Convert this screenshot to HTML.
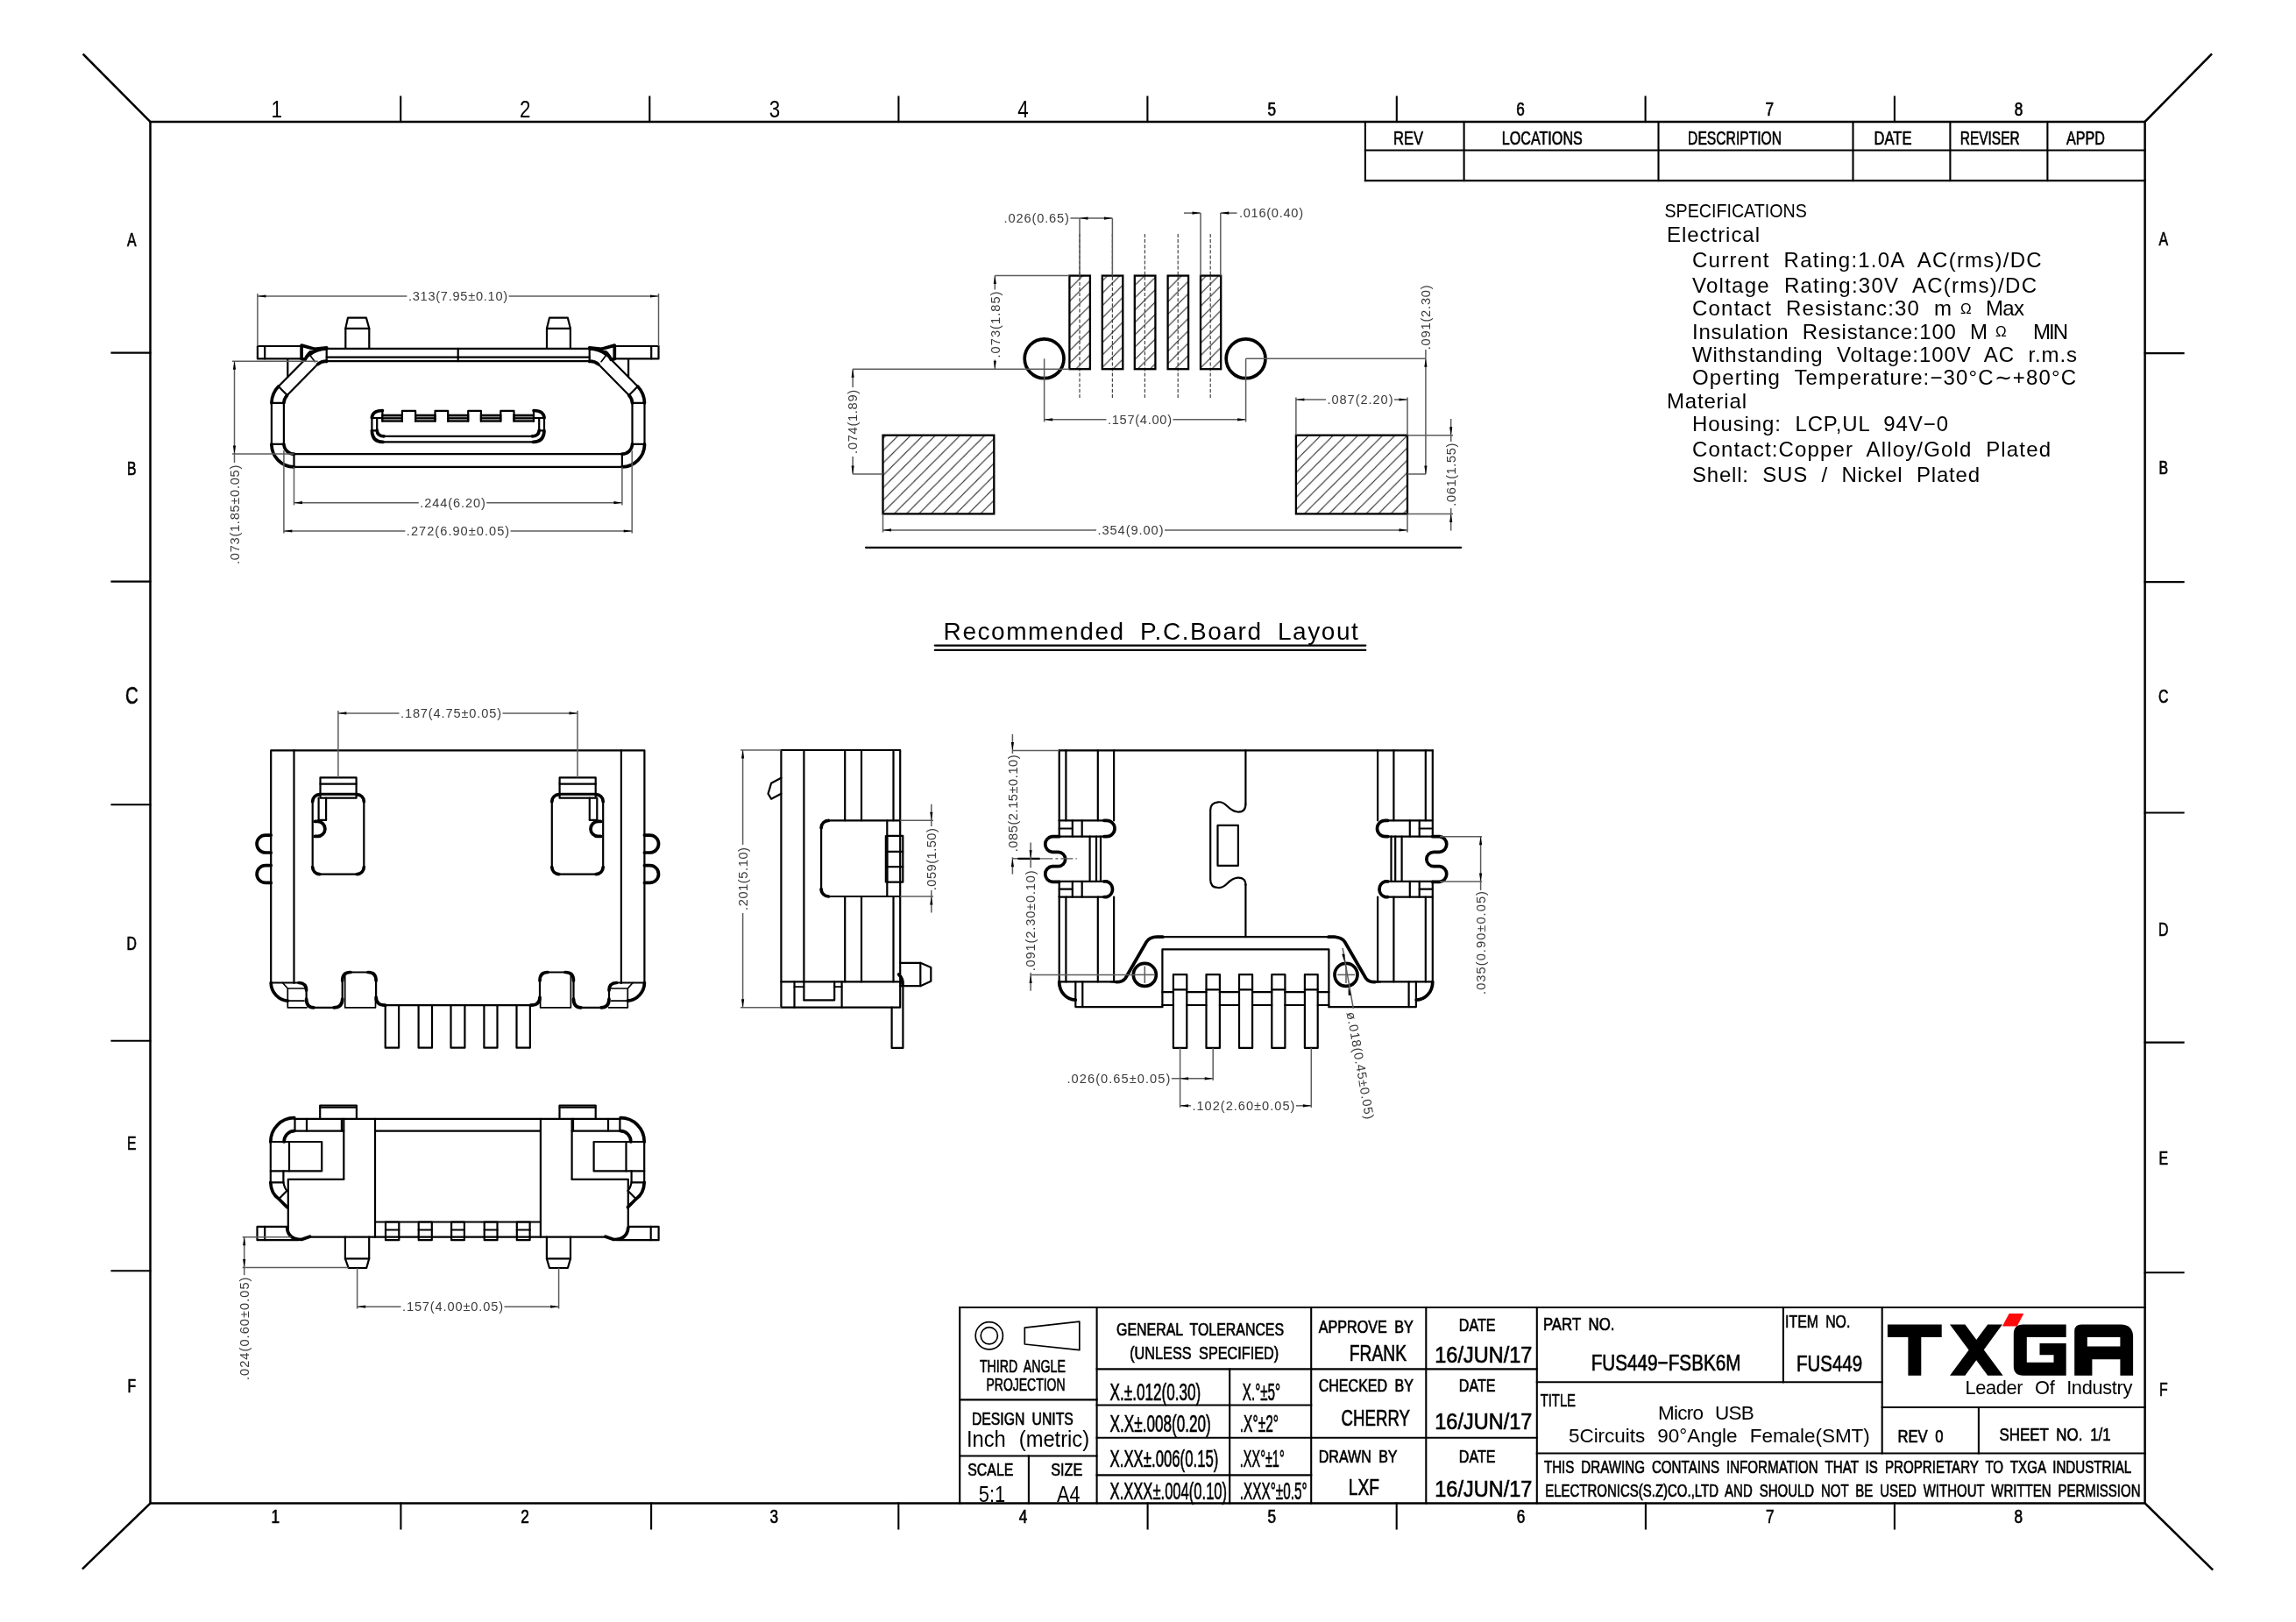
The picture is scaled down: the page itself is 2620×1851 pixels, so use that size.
<!DOCTYPE html>
<html><head><meta charset="utf-8"><title>FUS449-FSBK6M</title>
<style>
html,body{margin:0;padding:0;background:#fff;}
body{width:2620px;height:1851px;overflow:hidden;font-family:"Liberation Sans",sans-serif;}
svg{display:block;will-change:transform;transform:translateZ(0)}
svg text{font-family:"Liberation Sans",sans-serif;}
.f{stroke:#000;stroke-width:2.5;fill:none;stroke-linecap:square}
.g{stroke:#000;stroke-width:2.1;fill:none;stroke-linecap:square}
.k{stroke:#000;stroke-width:2.2;fill:none;stroke-linejoin:round;stroke-linecap:round}
.k3{stroke:#000;stroke-width:3.7;fill:none;stroke-linejoin:round;stroke-linecap:round}
.m{stroke:#000;stroke-width:1.7;fill:none;stroke-linejoin:round;stroke-linecap:round}
.n{stroke:#5c5c5c;stroke-width:1.5;fill:none}
.h{stroke:#444;stroke-width:1.2;fill:none;stroke-dasharray:4 2.1}
.cl{stroke:#555;stroke-width:1.3;fill:none;stroke-dasharray:14 3 3 3}
.af{fill:#000;stroke:none}
.t{fill:#000}
.tb{fill:#000;stroke:#000;stroke-width:0.65}
.wf{fill:#fff}
.d{fill:#3a3a3a}
.lg{fill:#000}
.hp{fill:url(#hatch);stroke:#000;stroke-width:2.3}
.hpB{fill:url(#hatchB);stroke:#000;stroke-width:2.3}
</style></head><body>
<svg width="2620" height="1851" viewBox="0 0 2620 1851">
<defs>
<pattern id="hatch" patternUnits="userSpaceOnUse" width="14.1" height="14.1"><path d="M0.20,-1 L-1,0.20 M14.30,-1 L-1,14.30 M28.40,-1 L-1,28.40 M42.50,-1 L-1,42.50" stroke="#2a2a2a" stroke-width="1.05" fill="none"/></pattern>
<pattern id="hatchB" patternUnits="userSpaceOnUse" width="14.1" height="14.1"><path d="M-11.10,-1 L-1,-11.10 M3.00,-1 L-1,3.00 M17.10,-1 L-1,17.10 M31.20,-1 L-1,31.20" stroke="#2a2a2a" stroke-width="1.05" fill="none"/></pattern>
</defs>
<g id="frame">
<rect class="f" x="171.5" y="139.0" width="2276.1" height="1576.5" />
<line class="f" x1="95.5" y1="62.5" x2="171.5" y2="139.0"/>
<line class="f" x1="2447.6" y1="139.0" x2="2523.2" y2="62.2"/>
<line class="f" x1="171.5" y1="1715.5" x2="94.8" y2="1789.7"/>
<line class="f" x1="2447.6" y1="1715.5" x2="2524.3" y2="1790.8"/>
<line class="g" x1="457.2" y1="110.5" x2="457.2" y2="139.0"/>
<line class="g" x1="741.3" y1="110.5" x2="741.3" y2="139.0"/>
<line class="g" x1="1025.4" y1="110.5" x2="1025.4" y2="139.0"/>
<line class="g" x1="1309.4" y1="110.5" x2="1309.4" y2="139.0"/>
<line class="g" x1="1593.8" y1="110.5" x2="1593.8" y2="139.0"/>
<line class="g" x1="1877.6" y1="110.5" x2="1877.6" y2="139.0"/>
<line class="g" x1="2161.9" y1="110.5" x2="2161.9" y2="139.0"/>
<line class="g" x1="457.4" y1="1715.5" x2="457.4" y2="1744.5"/>
<line class="g" x1="743.1" y1="1715.5" x2="743.1" y2="1744.5"/>
<line class="g" x1="1025.3" y1="1715.5" x2="1025.3" y2="1744.5"/>
<line class="g" x1="1309.6" y1="1715.5" x2="1309.6" y2="1744.5"/>
<line class="g" x1="1593.7" y1="1715.5" x2="1593.7" y2="1744.5"/>
<line class="g" x1="1877.9" y1="1715.5" x2="1877.9" y2="1744.5"/>
<line class="g" x1="2161.9" y1="1715.5" x2="2161.9" y2="1744.5"/>
<line class="g" x1="127.5" y1="402.6" x2="171.5" y2="402.6"/>
<line class="g" x1="127.5" y1="663.6" x2="171.5" y2="663.6"/>
<line class="g" x1="127.5" y1="918.3" x2="171.5" y2="918.3"/>
<line class="g" x1="127.5" y1="1187.7" x2="171.5" y2="1187.7"/>
<line class="g" x1="127.5" y1="1450.2" x2="171.5" y2="1450.2"/>
<line class="g" x1="2447.6" y1="403.1" x2="2491.6" y2="403.1"/>
<line class="g" x1="2447.6" y1="664.1" x2="2491.6" y2="664.1"/>
<line class="g" x1="2447.6" y1="927.5" x2="2491.6" y2="927.5"/>
<line class="g" x1="2447.6" y1="1189.6" x2="2491.6" y2="1189.6"/>
<line class="g" x1="2447.6" y1="1452.3" x2="2491.6" y2="1452.3"/>
<text class="t" x="315.8" y="134.2" font-size="28" text-anchor="middle" transform="translate(315.8 0) scale(0.8 1) translate(-315.8 0)">1</text>
<text class="t" x="599.3" y="134.2" font-size="28" text-anchor="middle" transform="translate(599.3 0) scale(0.8 1) translate(-599.3 0)">2</text>
<text class="t" x="883.9" y="134.2" font-size="28" text-anchor="middle" transform="translate(883.9 0) scale(0.8 1) translate(-883.9 0)">3</text>
<text class="t" x="1167.4" y="134.2" font-size="28" text-anchor="middle" transform="translate(1167.4 0) scale(0.8 1) translate(-1167.4 0)">4</text>
<text class="tb" x="1451.3" y="132.2" font-size="21.5" text-anchor="middle" transform="translate(1451.3 0) scale(0.8 1) translate(-1451.3 0)">5</text>
<text class="tb" x="1735.0" y="132.2" font-size="21.5" text-anchor="middle" transform="translate(1735.0 0) scale(0.8 1) translate(-1735.0 0)">6</text>
<text class="tb" x="2019.3" y="132.2" font-size="21.5" text-anchor="middle" transform="translate(2019.3 0) scale(0.8 1) translate(-2019.3 0)">7</text>
<text class="tb" x="2303.5" y="132.2" font-size="21.5" text-anchor="middle" transform="translate(2303.5 0) scale(0.8 1) translate(-2303.5 0)">8</text>
<text class="tb" x="314.4" y="1738.0" font-size="21.5" text-anchor="middle" transform="translate(314.4 0) scale(0.8 1) translate(-314.4 0)">1</text>
<text class="tb" x="599.0" y="1738.0" font-size="21.5" text-anchor="middle" transform="translate(599.0 0) scale(0.8 1) translate(-599.0 0)">2</text>
<text class="tb" x="883.3" y="1738.0" font-size="21.5" text-anchor="middle" transform="translate(883.3 0) scale(0.8 1) translate(-883.3 0)">3</text>
<text class="tb" x="1167.5" y="1738.0" font-size="21.5" text-anchor="middle" transform="translate(1167.5 0) scale(0.8 1) translate(-1167.5 0)">4</text>
<text class="tb" x="1451.3" y="1738.0" font-size="21.5" text-anchor="middle" transform="translate(1451.3 0) scale(0.8 1) translate(-1451.3 0)">5</text>
<text class="tb" x="1735.5" y="1738.0" font-size="21.5" text-anchor="middle" transform="translate(1735.5 0) scale(0.8 1) translate(-1735.5 0)">6</text>
<text class="tb" x="2019.7" y="1738.0" font-size="21.5" text-anchor="middle" transform="translate(2019.7 0) scale(0.8 1) translate(-2019.7 0)">7</text>
<text class="tb" x="2303.3" y="1738.0" font-size="21.5" text-anchor="middle" transform="translate(2303.3 0) scale(0.8 1) translate(-2303.3 0)">8</text>
<text class="tb" x="150.3" y="281.4" font-size="22" text-anchor="middle" transform="translate(150.3 0) scale(0.72 1) translate(-150.3 0)">A</text>
<text class="tb" x="150.3" y="542.0" font-size="22" text-anchor="middle" transform="translate(150.3 0) scale(0.72 1) translate(-150.3 0)">B</text>
<text class="tb" x="150.3" y="1084.3" font-size="22" text-anchor="middle" transform="translate(150.3 0) scale(0.72 1) translate(-150.3 0)">D</text>
<text class="tb" x="150.3" y="1312.3" font-size="22" text-anchor="middle" transform="translate(150.3 0) scale(0.72 1) translate(-150.3 0)">E</text>
<text class="tb" x="150.3" y="1589.2" font-size="22" text-anchor="middle" transform="translate(150.3 0) scale(0.72 1) translate(-150.3 0)">F</text>
<text class="tb" x="150.3" y="803.0" font-size="28.5" text-anchor="middle" transform="translate(150.3 0) scale(0.72 1) translate(-150.3 0)">C</text>
<text class="tb" x="2468.8" y="280.4" font-size="22" text-anchor="middle" transform="translate(2468.8 0) scale(0.72 1) translate(-2468.8 0)">A</text>
<text class="tb" x="2468.8" y="541.5" font-size="22" text-anchor="middle" transform="translate(2468.8 0) scale(0.72 1) translate(-2468.8 0)">B</text>
<text class="tb" x="2468.8" y="802.1" font-size="22" text-anchor="middle" transform="translate(2468.8 0) scale(0.72 1) translate(-2468.8 0)">C</text>
<text class="tb" x="2468.8" y="1068.5" font-size="22" text-anchor="middle" transform="translate(2468.8 0) scale(0.72 1) translate(-2468.8 0)">D</text>
<text class="tb" x="2468.8" y="1328.8" font-size="22" text-anchor="middle" transform="translate(2468.8 0) scale(0.72 1) translate(-2468.8 0)">E</text>
<text class="tb" x="2468.8" y="1592.8" font-size="22" text-anchor="middle" transform="translate(2468.8 0) scale(0.72 1) translate(-2468.8 0)">F</text>
</g>
<g id="rev">
<line class="g" x1="1557.9" y1="139.0" x2="1557.9" y2="206.1"/>
<line class="g" x1="1670.6" y1="139.0" x2="1670.6" y2="206.1"/>
<line class="g" x1="1892.5" y1="139.0" x2="1892.5" y2="206.1"/>
<line class="g" x1="2114.5" y1="139.0" x2="2114.5" y2="206.1"/>
<line class="g" x1="2225.4" y1="139.0" x2="2225.4" y2="206.1"/>
<line class="g" x1="2336.4" y1="139.0" x2="2336.4" y2="206.1"/>
<line class="g" x1="1557.9" y1="171.5" x2="2447.6" y2="171.5"/>
<line class="g" x1="1557.9" y1="206.1" x2="2447.6" y2="206.1"/>
<text class="tb" x="1590.0" y="164.6" font-size="22" text-anchor="start" textLength="34.0" lengthAdjust="spacingAndGlyphs" >REV</text>
<text class="tb" x="1713.8" y="164.6" font-size="22" text-anchor="start" textLength="92.0" lengthAdjust="spacingAndGlyphs" >LOCATIONS</text>
<text class="tb" x="1926.1" y="164.6" font-size="22" text-anchor="start" textLength="107.0" lengthAdjust="spacingAndGlyphs" >DESCRIPTION</text>
<text class="tb" x="2138.5" y="164.6" font-size="22" text-anchor="start" textLength="43.0" lengthAdjust="spacingAndGlyphs" >DATE</text>
<text class="tb" x="2236.7" y="164.6" font-size="22" text-anchor="start" textLength="68.0" lengthAdjust="spacingAndGlyphs" >REVISER</text>
<text class="tb" x="2358.0" y="164.6" font-size="22" text-anchor="start" textLength="44.0" lengthAdjust="spacingAndGlyphs" >APPD</text>
</g>
<g id="specs">
<text class="t" x="1899.4" y="247.9" font-size="22.5" text-anchor="start" textLength="162.5" lengthAdjust="spacingAndGlyphs" >SPECIFICATIONS</text>
<text class="t" x="1902.0" y="275.7" font-size="24" text-anchor="start" textLength="106.0" lengthAdjust="spacing"  word-spacing="8">Electrical</text>
<text class="t" x="1931.0" y="304.7" font-size="24" text-anchor="start" textLength="398.6" lengthAdjust="spacing"  word-spacing="8">Current Rating:1.0A AC(rms)/DC</text>
<text class="t" x="1931.0" y="334.1" font-size="24" text-anchor="start" textLength="393.0" lengthAdjust="spacing"  word-spacing="8">Voltage Rating:30V AC(rms)/DC</text>
<text class="t" x="1931.0" y="439.1" font-size="24" text-anchor="start" textLength="438.0" lengthAdjust="spacing"  word-spacing="8">Operting Temperature:−30°C∼+80°C</text>
<text class="t" x="1902.0" y="465.6" font-size="24" text-anchor="start" textLength="91.0" lengthAdjust="spacing"  word-spacing="8">Material</text>
<text class="t" x="1931.0" y="492.0" font-size="24" text-anchor="start" textLength="292.0" lengthAdjust="spacing"  word-spacing="8">Housing: LCP,UL 94V−0</text>
<text class="t" x="1931.0" y="521.0" font-size="24" text-anchor="start" textLength="409.0" lengthAdjust="spacing"  word-spacing="8">Contact:Copper Alloy/Gold Plated</text>
<text class="t" x="1931.0" y="550.1" font-size="24" text-anchor="start" textLength="328.0" lengthAdjust="spacing"  word-spacing="8">Shell: SUS / Nickel Plated</text>
<text class="t" x="1931.0" y="360.2" font-size="24" text-anchor="start" textLength="296.0" lengthAdjust="spacing"  word-spacing="8">Contact Resistanc:30 m</text>
<text class="t" x="2237.0" y="358.0" font-size="17" text-anchor="start" font-family="Liberation Serif">Ω</text>
<text class="t" x="2266.0" y="360.2" font-size="24" text-anchor="start" textLength="44.0" lengthAdjust="spacing"  word-spacing="8">Max</text>
<text class="t" x="1931.0" y="386.6" font-size="24" text-anchor="start" textLength="337.0" lengthAdjust="spacing"  word-spacing="8">Insulation Resistance:100 M</text>
<text class="t" x="2277.0" y="384.4" font-size="17" text-anchor="start" font-family="Liberation Serif">Ω</text>
<text class="t" x="2320.0" y="386.6" font-size="24" text-anchor="start" textLength="40.0" lengthAdjust="spacing"  word-spacing="8">MIN</text>
<text class="t" x="1931.0" y="413.1" font-size="24" text-anchor="start" textLength="439.0" lengthAdjust="spacing"  word-spacing="8">Withstanding Voltage:100V AC r.m.s</text>
</g>
<text class="t" x="1076.6" y="729.5" font-size="28" text-anchor="start" textLength="473.2" lengthAdjust="spacing"  word-spacing="8">Recommended P.C.Board Layout</text>
<line class="k" x1="1066.8" y1="736.6" x2="1558.3" y2="736.6"/>
<line class="k" x1="1066.8" y1="741.9" x2="1558.3" y2="741.9"/>
<g id="title">
<line class="g" x1="1095.2" y1="1492.0" x2="2447.6" y2="1492.0"/>
<line class="g" x1="1095.2" y1="1492.0" x2="1095.2" y2="1715.5"/>
<line class="g" x1="1251.6" y1="1492.0" x2="1251.6" y2="1715.5"/>
<line class="g" x1="1496.2" y1="1492.0" x2="1496.2" y2="1715.5"/>
<line class="g" x1="1627.3" y1="1492.0" x2="1627.3" y2="1715.5"/>
<line class="g" x1="1753.8" y1="1492.0" x2="1753.8" y2="1715.5"/>
<line class="g" x1="1403.2" y1="1562.4" x2="1403.2" y2="1715.5"/>
<line class="g" x1="1173.9" y1="1661.5" x2="1173.9" y2="1715.5"/>
<line class="g" x1="1095.2" y1="1597.4" x2="1251.6" y2="1597.4"/>
<line class="g" x1="1095.2" y1="1661.5" x2="1251.6" y2="1661.5"/>
<line class="g" x1="1251.6" y1="1562.4" x2="1496.2" y2="1562.4"/>
<line class="g" x1="1251.6" y1="1603.5" x2="1496.2" y2="1603.5"/>
<line class="g" x1="1251.6" y1="1640.7" x2="1496.2" y2="1640.7"/>
<line class="g" x1="1251.6" y1="1683.4" x2="1496.2" y2="1683.4"/>
<line class="g" x1="1496.2" y1="1562.4" x2="1753.8" y2="1562.4"/>
<line class="g" x1="1496.2" y1="1640.7" x2="1753.8" y2="1640.7"/>
<line class="g" x1="2034.9" y1="1492.0" x2="2034.9" y2="1577.3"/>
<line class="g" x1="2147.7" y1="1492.0" x2="2147.7" y2="1658.5"/>
<line class="g" x1="2257.9" y1="1606.0" x2="2257.9" y2="1658.5"/>
<line class="g" x1="1753.8" y1="1577.3" x2="2147.7" y2="1577.3"/>
<line class="g" x1="2147.7" y1="1606.0" x2="2447.6" y2="1606.0"/>
<line class="g" x1="1753.8" y1="1658.5" x2="2447.6" y2="1658.5"/>
<circle class="m" cx="1128.8" cy="1524.3" r="15.6"/>
<circle class="m" cx="1128.8" cy="1524.3" r="9.6"/>
<path class="m" d="M1169.3,1515.1 L1231.8,1508.1 L1231.8,1540.7 L1169.3,1534.0 Z"/>
<text class="tb" x="1117.9" y="1566.0" font-size="20.5" text-anchor="start" textLength="98.0" lengthAdjust="spacingAndGlyphs"  word-spacing="5">THIRD ANGLE</text>
<text class="tb" x="1125.5" y="1587.4" font-size="20.5" text-anchor="start" textLength="90.0" lengthAdjust="spacingAndGlyphs" >PROJECTION</text>
<text class="tb" x="1108.9" y="1625.5" font-size="20.5" text-anchor="start" textLength="116.0" lengthAdjust="spacingAndGlyphs"  word-spacing="5">DESIGN UNITS</text>
<text class="t" x="1102.9" y="1651.4" font-size="25" text-anchor="start" textLength="140.2" lengthAdjust="spacingAndGlyphs"  word-spacing="9">Inch (metric)</text>
<text class="tb" x="1104.3" y="1684.3" font-size="20.5" text-anchor="start" textLength="52.0" lengthAdjust="spacingAndGlyphs" >SCALE</text>
<text class="tb" x="1199.2" y="1684.3" font-size="20.5" text-anchor="start" textLength="36.0" lengthAdjust="spacingAndGlyphs" >SIZE</text>
<text class="t" x="1116.8" y="1713.9" font-size="25" text-anchor="start" textLength="30.5" lengthAdjust="spacingAndGlyphs" >5:1</text>
<text class="t" x="1206.0" y="1713.9" font-size="25" text-anchor="start" textLength="26.5" lengthAdjust="spacingAndGlyphs" >A4</text>
<text class="tb" x="1274.1" y="1524.3" font-size="20.5" text-anchor="start" textLength="191.0" lengthAdjust="spacingAndGlyphs"  word-spacing="5">GENERAL TOLERANCES</text>
<text class="tb" x="1289.2" y="1550.8" font-size="20.5" text-anchor="start" textLength="170.0" lengthAdjust="spacingAndGlyphs"  word-spacing="5">(UNLESS SPECIFIED)</text>
<text class="tb" x="1266.6" y="1597.8" font-size="27" text-anchor="start" textLength="103.6" lengthAdjust="spacingAndGlyphs" >X.±.012(0.30)</text>
<text class="tb" x="1417.8" y="1597.8" font-size="27" text-anchor="start" textLength="43.3" lengthAdjust="spacingAndGlyphs" >X.°±5°</text>
<text class="tb" x="1266.6" y="1633.5" font-size="27" text-anchor="start" textLength="115.2" lengthAdjust="spacingAndGlyphs" >X.X±.008(0.20)</text>
<text class="tb" x="1414.8" y="1633.5" font-size="27" text-anchor="start" textLength="44.2" lengthAdjust="spacingAndGlyphs" >.X°±2°</text>
<text class="tb" x="1266.6" y="1674.0" font-size="27" text-anchor="start" textLength="123.8" lengthAdjust="spacingAndGlyphs" >X.XX±.006(0.15)</text>
<text class="tb" x="1414.8" y="1674.0" font-size="27" text-anchor="start" textLength="50.9" lengthAdjust="spacingAndGlyphs" >.XX°±1°</text>
<text class="tb" x="1266.6" y="1711.2" font-size="27" text-anchor="start" textLength="133.5" lengthAdjust="spacingAndGlyphs" >X.XXX±.004(0.10)</text>
<text class="tb" x="1414.8" y="1711.2" font-size="27" text-anchor="start" textLength="76.8" lengthAdjust="spacingAndGlyphs" >.XXX°±0.5°</text>
<text class="tb" x="1504.7" y="1521.2" font-size="20.5" text-anchor="start" textLength="108.2" lengthAdjust="spacingAndGlyphs"  word-spacing="5">APPROVE BY</text>
<text class="tb" x="1539.8" y="1552.9" font-size="25" text-anchor="start" textLength="65.2" lengthAdjust="spacingAndGlyphs" >FRANK</text>
<text class="tb" x="1504.7" y="1588.3" font-size="20.5" text-anchor="start" textLength="108.2" lengthAdjust="spacingAndGlyphs"  word-spacing="5">CHECKED BY</text>
<text class="tb" x="1530.6" y="1627.0" font-size="25" text-anchor="start" textLength="78.4" lengthAdjust="spacingAndGlyphs" >CHERRY</text>
<text class="tb" x="1504.7" y="1668.8" font-size="20.5" text-anchor="start" textLength="89.9" lengthAdjust="spacingAndGlyphs"  word-spacing="5">DRAWN BY</text>
<text class="tb" x="1538.8" y="1706.3" font-size="25" text-anchor="start" textLength="35.1" lengthAdjust="spacingAndGlyphs" >LXF</text>
<text class="tb" x="1664.8" y="1519.4" font-size="20.5" text-anchor="start" textLength="41.8" lengthAdjust="spacingAndGlyphs" >DATE</text>
<text class="tb" x="1664.8" y="1588.3" font-size="20.5" text-anchor="start" textLength="41.8" lengthAdjust="spacingAndGlyphs" >DATE</text>
<text class="tb" x="1664.8" y="1668.8" font-size="20.5" text-anchor="start" textLength="41.8" lengthAdjust="spacingAndGlyphs" >DATE</text>
<text class="tb" x="1637.3" y="1555.4" font-size="25" text-anchor="start" textLength="111.0" lengthAdjust="spacingAndGlyphs" >16/JUN/17</text>
<text class="tb" x="1637.3" y="1630.7" font-size="25" text-anchor="start" textLength="111.0" lengthAdjust="spacingAndGlyphs" >16/JUN/17</text>
<text class="tb" x="1637.3" y="1707.8" font-size="25" text-anchor="start" textLength="111.0" lengthAdjust="spacingAndGlyphs" >16/JUN/17</text>
<text class="tb" x="1760.9" y="1517.7" font-size="20.5" text-anchor="start" textLength="81.6" lengthAdjust="spacingAndGlyphs"  word-spacing="5">PART NO.</text>
<text class="tb" x="1815.7" y="1563.5" font-size="26" text-anchor="start" textLength="170.8" lengthAdjust="spacingAndGlyphs" >FUS449−FSBK6M</text>
<text class="tb" x="2037.1" y="1515.1" font-size="20.5" text-anchor="start" textLength="74.2" lengthAdjust="spacingAndGlyphs"  word-spacing="5">ITEM NO.</text>
<text class="tb" x="2050.0" y="1565.1" font-size="26" text-anchor="start" textLength="75.1" lengthAdjust="spacingAndGlyphs" >FUS449</text>
<text class="tb" x="1757.7" y="1604.7" font-size="20.5" text-anchor="start" textLength="40.3" lengthAdjust="spacingAndGlyphs" >TITLE</text>
<text class="t" x="1892.1" y="1619.9" font-size="22.5" text-anchor="start" textLength="109.6" lengthAdjust="spacing"  word-spacing="8">Micro USB</text>
<text class="t" x="1790.0" y="1645.6" font-size="22.5" text-anchor="start" textLength="343.8" lengthAdjust="spacing"  word-spacing="8">5Circuits 90°Angle Female(SMT)</text>
<text class="tb" x="2165.4" y="1645.6" font-size="20.5" text-anchor="start" textLength="52.2" lengthAdjust="spacingAndGlyphs"  word-spacing="5">REV 0</text>
<text class="tb" x="2281.4" y="1644.0" font-size="20.5" text-anchor="start" textLength="127.3" lengthAdjust="spacingAndGlyphs"  word-spacing="5">SHEET NO. 1/1</text>
<text class="tb" x="1761.9" y="1681.1" font-size="20" text-anchor="start" textLength="670.3" lengthAdjust="spacingAndGlyphs"  word-spacing="5">THIS DRAWING CONTAINS INFORMATION THAT IS PROPRIETARY TO TXGA INDUSTRIAL</text>
<text class="tb" x="1763.2" y="1707.8" font-size="20" text-anchor="start" textLength="679.3" lengthAdjust="spacingAndGlyphs"  word-spacing="5">ELECTRONICS(S.Z)CO.,LTD AND SHOULD NOT BE USED WITHOUT WRITTEN PERMISSION</text>
<text class="t" x="2242.4" y="1591.2" font-size="21.8" text-anchor="start" textLength="191.0" lengthAdjust="spacing"  word-spacing="8">Leader Of Industry</text>
<path class="lg" d="M2153.9,1511.5 H2215.7 V1526.1 H2192.3 V1569.7 H2177.4 V1526.1 H2153.9 Z"/>
<path class="lg" d="M2225,1511.5 H2242.4 L2285.6,1569.7 H2268.2 Z"/>
<path class="lg" d="M2268.2,1511.5 H2284.9 L2242.4,1569.7 H2225 Z"/>
<path fill="#ff0a0a" d="M2292.6,1498.9 H2309.3 L2301.7,1513.6 H2284.9 Z"/>
<path class="lg" d="M2357.7,1511.5 H2308.5 Q2297.8,1511.5 2297.8,1522.5 V1559 Q2297.8,1569.7 2308.5,1569.7 H2357.7 V1533.1 H2327.5 V1546.3 H2343.5 V1554.7 H2312.8 V1526.1 H2357.7 Z"/>
<path class="lg" fill-rule="evenodd" d="M2367.2,1569.7 V1519 Q2367.2,1511.5 2375,1511.5 H2420 Q2434.1,1511.5 2434.1,1526 V1569.7 H2419.4 V1551.2 H2387.4 V1569.7 Z M2381.8,1526.1 H2419.4 V1536.6 H2381.8 Z"/>
</g>
<g id="v1">
<path class="k" d="M372.7,397.8 H672.7 M353.8,404.4 L317.7,441 M691.6,404.4 L727.7,441 M309.9,459.9 V506.8 M735.5,459.9 V506.8 M335.5,532.8 H709.9"/>
<path class="k" d="M372.7,412.2 H672.7 M362.7,415.5 L327.7,451 M682.7,415.5 L717.7,451 M323.9,459.9 V506.8 M721.5,459.9 V506.8 M335.5,518.1 H709.9"/>
<path class="k3" d="M372.7,397.8 Q361.5,398 353.8,404.4"/>
<path class="k3" d="M372.7,412.2 Q366.5,412.4 362.7,415.5"/>
<path class="k3" d="M317.7,441 Q310.2,448.8 309.9,459.9"/>
<path class="k3" d="M327.7,451 Q324.1,455 323.9,459.9"/>
<path class="k3" d="M309.9,506.8 A25.8,25.8 0 0 0 335.5,532.8"/>
<path class="k3" d="M323.9,506.8 A11.5,11.5 0 0 0 335.5,518.1"/>
<line class="k" x1="372.7" y1="396.6" x2="372.7" y2="413.3"/>
<line class="m" x1="353.8" y1="405.5" x2="359.3" y2="412.7"/>
<line class="k" x1="317.7" y1="441.0" x2="327.7" y2="451.0"/>
<line class="k" x1="309.9" y1="459.9" x2="323.9" y2="459.9"/>
<line class="k" x1="309.9" y1="506.8" x2="323.9" y2="506.8"/>
<line class="k" x1="335.5" y1="518.1" x2="335.5" y2="532.8"/>
<path class="k" d="M344.1,395 H293.9 V409.4 H346.0"/>
<line class="k" x1="302.2" y1="395.0" x2="302.2" y2="409.4"/>
<path class="k3" d="M344.1,409.6 V394.1 L358.8,398.3 L372.7,396.8 M344.1,409.6 L348.2,410.3 Q351.0,403 358.8,398.3"/>
<line class="k" x1="328.3" y1="410.0" x2="328.3" y2="430.2"/>
<path class="k3" d="M672.7,397.8 Q683.9,398 691.6,404.4"/>
<path class="k3" d="M672.7,412.2 Q678.9,412.4 682.7,415.5"/>
<path class="k3" d="M727.7,441 Q735.2,448.8 735.5,459.9"/>
<path class="k3" d="M717.7,451 Q721.3,455 721.5,459.9"/>
<path class="k3" d="M735.5,506.8 A25.8,25.8 0 0 1 709.9,532.8"/>
<path class="k3" d="M721.5,506.8 A11.5,11.5 0 0 1 709.9,518.1"/>
<line class="k" x1="672.7" y1="396.6" x2="672.7" y2="413.3"/>
<line class="m" x1="691.6" y1="405.5" x2="686.1" y2="412.7"/>
<line class="k" x1="727.7" y1="441.0" x2="717.7" y2="451.0"/>
<line class="k" x1="735.5" y1="459.9" x2="721.5" y2="459.9"/>
<line class="k" x1="735.5" y1="506.8" x2="721.5" y2="506.8"/>
<line class="k" x1="709.9" y1="518.1" x2="709.9" y2="532.8"/>
<path class="k" d="M701.3,395 H751.5 V409.4 H699.4"/>
<line class="k" x1="743.2" y1="395.0" x2="743.2" y2="409.4"/>
<path class="k3" d="M701.3,409.6 V394.1 L686.6,398.3 L672.7,396.8 M701.3,409.6 L697.2,410.3 Q694.4,403 686.6,398.3"/>
<line class="k" x1="717.1" y1="410.0" x2="717.1" y2="430.2"/>
<line class="k" x1="372.7" y1="407.7" x2="672.7" y2="407.7"/>
<line class="k" x1="522.7" y1="397.8" x2="522.7" y2="412.2"/>
<path class="k" d="M394.3,397.2 V374.8 L397,362.6 H417.9 L421.3,374.8 V397.2"/>
<line class="k" x1="394.3" y1="374.8" x2="421.3" y2="374.8"/>
<path class="k" d="M624,397.2 V374.8 L627,362.6 H647.8 L650.9,374.8 V397.2"/>
<line class="k" x1="624.0" y1="374.8" x2="650.9" y2="374.8"/>
<path class="k" d="M436.4,468.6 V480.6 M609,468.6 V480.6 M424.4,477 H436.4 M621,477 H609 M424.4,477 V491.6 M621,477 V491.6 M430.2,477 V491 M615.2,477 V491 M437,504.3 H608.4 M438,497.9 H607.4 M424.4,491.4 H430.2 M621,491.4 H615.2"/>
<path class="k3" d="M436.4,468.5 Q424.6,468.8 424.4,477 M609,468.5 Q620.8,468.8 621,477 M424.4,491.6 Q424.8,504.2 437,504.3 M621,491.6 Q620.6,504.2 608.4,504.3 M430.2,491 Q430.5,497.7 438,497.9 M615.2,491 Q614.9,497.7 607.4,497.9"/>
<rect x="436.4" y="473.8" width="22.5" height="6.8" fill="#8a8a8a" stroke="#000" stroke-width="2.2"/>
<line class="m" x1="436.4" y1="477.2" x2="458.9" y2="477.2"/>
<rect x="474.1" y="473.8" width="22.4" height="6.8" fill="#8a8a8a" stroke="#000" stroke-width="2.2"/>
<line class="m" x1="474.1" y1="477.2" x2="496.5" y2="477.2"/>
<rect x="511.2" y="473.8" width="23.0" height="6.8" fill="#8a8a8a" stroke="#000" stroke-width="2.2"/>
<line class="m" x1="511.2" y1="477.2" x2="534.2" y2="477.2"/>
<rect x="548.9" y="473.8" width="22.4" height="6.8" fill="#8a8a8a" stroke="#000" stroke-width="2.2"/>
<line class="m" x1="548.9" y1="477.2" x2="571.3" y2="477.2"/>
<rect x="586.5" y="473.8" width="22.5" height="6.8" fill="#8a8a8a" stroke="#000" stroke-width="2.2"/>
<line class="m" x1="586.5" y1="477.2" x2="609.0" y2="477.2"/>
<path class="k" d="M458.9,480.6 V468.9 H474.1 V480.6"/>
<path class="k" d="M496.5,480.6 V468.9 H511.2 V480.6"/>
<path class="k" d="M534.2,480.6 V468.9 H548.9 V480.6"/>
<path class="k" d="M571.3,480.6 V468.9 H586.5 V480.6"/>
<line class="n" x1="293.9" y1="335.0" x2="293.9" y2="395.0"/>
<line class="n" x1="751.5" y1="335.0" x2="751.5" y2="395.0"/>
<line class="n" x1="293.9" y1="338.0" x2="464.4" y2="338.0"/>
<line class="n" x1="580.6" y1="338.0" x2="751.5" y2="338.0"/>
<path class="af" d="M293.9,338.0 L303.4,336.4 L303.4,339.6 Z"/>
<path class="af" d="M751.5,338.0 L742.0,339.6 L742.0,336.4 Z"/>
<text class="d" x="522.5" y="343.2" font-size="14.6" text-anchor="middle" textLength="113.2" lengthAdjust="spacing">.313(7.95±0.10)</text>
<line class="n" x1="335.5" y1="532.8" x2="335.5" y2="576.5"/>
<line class="n" x1="709.9" y1="532.8" x2="709.9" y2="576.5"/>
<line class="n" x1="335.5" y1="573.7" x2="477.8" y2="573.7"/>
<line class="n" x1="555.2" y1="573.7" x2="709.9" y2="573.7"/>
<path class="af" d="M335.5,573.7 L345.0,572.1 L345.0,575.3 Z"/>
<path class="af" d="M709.9,573.7 L700.4,575.3 L700.4,572.1 Z"/>
<text class="d" x="516.5" y="578.9" font-size="14.6" text-anchor="middle" textLength="74.5" lengthAdjust="spacing">.244(6.20)</text>
<line class="n" x1="323.9" y1="514.0" x2="323.9" y2="608.6"/>
<line class="n" x1="721.2" y1="514.0" x2="721.2" y2="608.6"/>
<line class="n" x1="323.9" y1="606.0" x2="462.4" y2="606.0"/>
<line class="n" x1="582.6" y1="606.0" x2="721.2" y2="606.0"/>
<path class="af" d="M323.9,606.0 L333.4,604.4 L333.4,607.6 Z"/>
<path class="af" d="M721.2,606.0 L711.7,607.6 L711.7,604.4 Z"/>
<text class="d" x="522.5" y="611.2" font-size="14.6" text-anchor="middle" textLength="117.3" lengthAdjust="spacing">.272(6.90±0.05)</text>
<line class="n" x1="265.0" y1="412.2" x2="362.7" y2="412.2"/>
<line class="n" x1="265.0" y1="518.1" x2="335.5" y2="518.1"/>
<line class="n" x1="267.5" y1="412.2" x2="267.5" y2="528.0"/>
<path class="af" d="M267.5,412.2 L269.1,421.7 L265.9,421.7 Z"/>
<path class="af" d="M267.5,518.1 L265.9,508.6 L269.1,508.6 Z"/>
<text class="d" x="0" y="5.2" font-size="14.6" text-anchor="middle" textLength="113.3" lengthAdjust="spacing" transform="translate(267.5 587.3) rotate(-90)">.073(1.85±0.05)</text>
</g>
<g id="pcb">
<line class="h" x1="1232.0" y1="267.0" x2="1232.0" y2="455.0"/>
<line class="h" x1="1269.4" y1="267.0" x2="1269.4" y2="455.0"/>
<line class="h" x1="1306.4" y1="267.0" x2="1306.4" y2="455.0"/>
<line class="h" x1="1344.2" y1="267.0" x2="1344.2" y2="455.0"/>
<line class="h" x1="1381.2" y1="267.0" x2="1381.2" y2="455.0"/>
<rect class="hp" x="1220.4" y="314.6" width="23.5" height="106.6" />
<rect class="hp" x="1257.8" y="314.6" width="23.5" height="106.6" />
<rect class="hp" x="1294.8" y="314.6" width="23.6" height="106.6" />
<rect class="hp" x="1332.6" y="314.6" width="23.5" height="106.6" />
<rect class="hp" x="1370.0" y="314.6" width="23.2" height="106.6" />
<rect class="hp" x="1007.5" y="496.7" width="126.8" height="89.7" />
<rect class="hpB" x="1478.9" y="496.7" width="127.1" height="89.7" />
<circle class="k3" cx="1191.6" cy="409.3" r="22.4"/>
<circle class="k3" cx="1421.6" cy="409.3" r="22.4"/>
<line class="n" x1="1232.0" y1="249.1" x2="1232.0" y2="314.6"/>
<line class="n" x1="1269.4" y1="249.1" x2="1269.4" y2="314.6"/>
<line class="n" x1="1221.4" y1="249.1" x2="1269.4" y2="249.1"/>
<path class="af" d="M1232.0,249.1 L1241.5,247.5 L1241.5,250.7 Z"/>
<path class="af" d="M1269.4,249.1 L1259.9,250.7 L1259.9,247.5 Z"/>
<text class="d" x="1182.7" y="254.3" font-size="14.6" text-anchor="middle" textLength="74.5" lengthAdjust="spacing">.026(0.65)</text>
<line class="n" x1="1370.0" y1="243.1" x2="1370.0" y2="314.6"/>
<line class="n" x1="1392.8" y1="243.1" x2="1392.8" y2="314.6"/>
<line class="n" x1="1351.0" y1="243.1" x2="1370.0" y2="243.1"/>
<line class="n" x1="1392.8" y1="243.1" x2="1411.5" y2="243.1"/>
<path class="af" d="M1370.0,243.1 L1360.5,244.7 L1360.5,241.5 Z"/>
<path class="af" d="M1392.8,243.1 L1402.3,241.5 L1402.3,244.7 Z"/>
<text class="d" x="1450.5" y="248.3" font-size="14.6" text-anchor="middle" textLength="73.0" lengthAdjust="spacing">.016(0.40)</text>
<line class="n" x1="1135.3" y1="314.6" x2="1220.4" y2="314.6"/>
<line class="n" x1="973.1" y1="421.2" x2="1220.4" y2="421.2"/>
<line class="n" x1="1135.3" y1="314.6" x2="1135.3" y2="330.5"/>
<line class="n" x1="1135.3" y1="410.5" x2="1135.3" y2="421.2"/>
<path class="af" d="M1135.3,314.6 L1136.9,324.1 L1133.7,324.1 Z"/>
<path class="af" d="M1135.3,421.2 L1133.7,411.7 L1136.9,411.7 Z"/>
<text class="d" x="0" y="5.2" font-size="14.6" text-anchor="middle" textLength="76.0" lengthAdjust="spacing" transform="translate(1135.3 370.5) rotate(-90)">.073(1.85)</text>
<line class="n" x1="973.1" y1="421.2" x2="973.1" y2="441.9"/>
<line class="n" x1="973.1" y1="520.9" x2="973.1" y2="541.0"/>
<path class="af" d="M973.1,421.2 L974.7,430.7 L971.5,430.7 Z"/>
<path class="af" d="M973.1,541.0 L971.5,531.5 L974.7,531.5 Z"/>
<text class="d" x="0" y="5.2" font-size="14.6" text-anchor="middle" textLength="73.0" lengthAdjust="spacing" transform="translate(973.1 481.4) rotate(-90)">.074(1.89)</text>
<line class="n" x1="973.1" y1="541.0" x2="1007.5" y2="541.0"/>
<line class="n" x1="1191.6" y1="409.3" x2="1191.6" y2="481.5"/>
<line class="n" x1="1421.6" y1="409.3" x2="1421.6" y2="481.5"/>
<line class="n" x1="1191.6" y1="478.8" x2="1262.5" y2="478.8"/>
<line class="n" x1="1338.5" y1="478.8" x2="1421.6" y2="478.8"/>
<path class="af" d="M1191.6,478.8 L1201.1,477.2 L1201.1,480.4 Z"/>
<path class="af" d="M1421.6,478.8 L1412.1,480.4 L1412.1,477.2 Z"/>
<text class="d" x="1300.5" y="484.0" font-size="14.6" text-anchor="middle" textLength="73.0" lengthAdjust="spacing">.157(4.00)</text>
<line class="n" x1="1478.9" y1="453.5" x2="1478.9" y2="496.7"/>
<line class="n" x1="1606.0" y1="453.5" x2="1606.0" y2="496.7"/>
<line class="n" x1="1478.9" y1="456.0" x2="1513.0" y2="456.0"/>
<line class="n" x1="1591.0" y1="456.0" x2="1606.0" y2="456.0"/>
<path class="af" d="M1478.9,456.0 L1488.4,454.4 L1488.4,457.6 Z"/>
<path class="af" d="M1606.0,456.0 L1596.5,457.6 L1596.5,454.4 Z"/>
<text class="d" x="1552.0" y="461.2" font-size="14.6" text-anchor="middle" textLength="75.0" lengthAdjust="spacing">.087(2.20)</text>
<line class="n" x1="1421.6" y1="409.3" x2="1627.0" y2="409.3"/>
<line class="n" x1="1606.0" y1="541.0" x2="1627.0" y2="541.0"/>
<line class="n" x1="1626.9" y1="399.0" x2="1626.9" y2="541.0"/>
<path class="af" d="M1626.9,409.3 L1628.5,418.8 L1625.3,418.8 Z"/>
<path class="af" d="M1626.9,541.0 L1625.3,531.5 L1628.5,531.5 Z"/>
<text class="d" x="0" y="5.2" font-size="14.6" text-anchor="middle" textLength="74.0" lengthAdjust="spacing" transform="translate(1626.9 362.3) rotate(-90)">.091(2.30)</text>
<line class="n" x1="1606.0" y1="496.7" x2="1658.0" y2="496.7"/>
<line class="n" x1="1606.0" y1="586.4" x2="1658.0" y2="586.4"/>
<line class="n" x1="1655.7" y1="478.0" x2="1655.7" y2="504.0"/>
<line class="n" x1="1655.7" y1="580.0" x2="1655.7" y2="605.6"/>
<path class="af" d="M1655.7,496.7 L1654.1,487.2 L1657.3,487.2 Z"/>
<path class="af" d="M1655.7,586.4 L1657.3,595.9 L1654.1,595.9 Z"/>
<text class="d" x="0" y="5.2" font-size="14.6" text-anchor="middle" textLength="72.0" lengthAdjust="spacing" transform="translate(1655.7 541.7) rotate(-90)">.061(1.55)</text>
<line class="n" x1="1007.5" y1="586.4" x2="1007.5" y2="607.5"/>
<line class="n" x1="1606.0" y1="586.4" x2="1606.0" y2="607.5"/>
<line class="n" x1="1007.5" y1="604.9" x2="1251.0" y2="604.9"/>
<line class="n" x1="1329.0" y1="604.9" x2="1606.0" y2="604.9"/>
<path class="af" d="M1007.5,604.9 L1017.0,603.3 L1017.0,606.5 Z"/>
<path class="af" d="M1606.0,604.9 L1596.5,606.5 L1596.5,603.3 Z"/>
<text class="d" x="1290.0" y="610.1" font-size="14.6" text-anchor="middle" textLength="75.0" lengthAdjust="spacing">.354(9.00)</text>
<line class="k" x1="988.0" y1="624.8" x2="1667.2" y2="624.8"/>
</g>
<g id="v2">
<path class="k" d="M309.2,1121.5 V856.3 H735.4 V1121.5"/>
<line class="k" x1="335.5" y1="856.3" x2="335.5" y2="1122.0"/>
<line class="k" x1="708.9" y1="856.3" x2="708.9" y2="1122.0"/>
<path class="k3" d="M309.2,1121.5 A21,21 0 0 0 328.3,1142.2"/>
<path class="k3" d="M735.4,1121.5 A21,21 0 0 1 716.3,1142.2"/>
<path class="k" d="M309.2,1121.5 H341 Q349.6,1122 349.6,1130"/>
<path class="k" d="M735.4,1121.5 H703.6 Q695,1122 695,1130"/>
<path class="m" d="M322.5,1121.5 L328.3,1128 H349 M328.3,1128 V1149.8 H350 M328.3,1142.2 H347"/>
<path class="m" d="M722.1,1121.5 L716.3,1128 H695.6 M716.3,1128 V1149.8 H694.6 M716.3,1142.2 H697.6"/>
<path class="k" d="M349.6,1130 V1140 Q349.6,1149.8 358,1149.8 H381 Q390.7,1149.8 390.7,1140 V1119 Q390.7,1109.5 400,1109.5 H420 Q429.1,1109.5 429.1,1119 V1138 Q429.1,1147.2 439.7,1147.2 H605.5 Q616,1147.2 616,1138 V1119 Q616,1109.5 625,1109.5 H645 Q654.5,1109.5 654.5,1119 V1140 Q654.5,1149.8 663,1149.8 H686 Q695,1149.8 695,1140 V1130"/>
<path class="k3" d="M390.7,1119 Q390.7,1109.5 400,1109.5 M420,1109.5 Q429.1,1109.5 429.1,1119 M616,1119 Q616,1109.5 625,1109.5 M645,1109.5 Q654.5,1109.5 654.5,1119 M349.6,1140 Q349.6,1149.8 358,1149.8 M381,1149.8 Q390.7,1149.8 390.7,1140 M429.1,1138 Q429.1,1147.2 439.7,1147.2 M605.5,1147.2 Q616,1147.2 616,1138 M654.5,1140 Q654.5,1149.8 663,1149.8 M686,1149.8 Q695,1149.8 695,1140 M341,1121.5 Q349.6,1122 349.6,1130 M703.6,1121.5 Q695,1122 695,1130"/>
<path class="m" d="M393.7,1113 V1149.8 H428.5 V1140"/>
<path class="m" d="M651.4,1113 V1149.8 H616.6 V1140"/>
<path class="k" d="M439.7,1147.2 V1195.7 H455.1 V1147.2"/>
<path class="k" d="M477.6,1147.2 V1195.7 H493 V1147.2"/>
<path class="k" d="M514.5,1147.2 V1195.7 H530.4 V1147.2"/>
<path class="k" d="M552.4,1147.2 V1195.7 H567.5 V1147.2"/>
<path class="k" d="M589.5,1147.2 V1195.7 H604.9 V1147.2"/>
<rect class="k" x="356.7" y="906.7" width="58.6" height="90.9" rx="8" ry="8"/>
<rect class="k" x="365.5" y="887.3" width="41.1" height="23.4" fill="#fff"/>
<path class="k3" d="M356.7,914.7 A8,8 0 0 1 364.7,906.7 M407.3,906.7 A8,8 0 0 1 415.3,914.7 M415.3,989.6 A8,8 0 0 1 407.3,997.6 M364.7,997.6 A8,8 0 0 1 356.7,989.6"/>
<line class="k" x1="365.5" y1="894.7" x2="406.6" y2="894.7"/>
<line class="k" x1="365.5" y1="905.9" x2="406.6" y2="905.9"/>
<line class="k" x1="363.6" y1="910.7" x2="363.6" y2="935.8"/>
<line class="k" x1="372.1" y1="910.7" x2="372.1" y2="935.8"/>
<line class="k" x1="363.6" y1="935.8" x2="372.1" y2="935.8"/>
<path class="k3" d="M359.4,937.4 H362.4 A8.5,8.5 0 0 1 362.4,954.4 H359.4"/>
<rect class="k" x="629.8" y="906.7" width="58.4" height="90.9" rx="8" ry="8"/>
<rect class="k" x="638.6" y="887.3" width="41.1" height="23.4" fill="#fff"/>
<path class="k3" d="M629.8,914.7 A8,8 0 0 1 637.8,906.7 M680.2,906.7 A8,8 0 0 1 688.2,914.7 M688.2,989.6 A8,8 0 0 1 680.2,997.6 M637.8,997.6 A8,8 0 0 1 629.8,989.6"/>
<line class="k" x1="638.6" y1="894.7" x2="679.7" y2="894.7"/>
<line class="k" x1="638.6" y1="905.9" x2="679.7" y2="905.9"/>
<line class="k" x1="681.3" y1="910.7" x2="681.3" y2="935.8"/>
<line class="k" x1="672.8" y1="910.7" x2="672.8" y2="935.8"/>
<line class="k" x1="681.3" y1="935.8" x2="672.8" y2="935.8"/>
<path class="k3" d="M685.5,937.4 H682.5 A8.5,8.5 0 0 0 682.5,954.4 H685.5"/>
<path class="k3" d="M309.2,953.1 H303 A9.9,9.9 0 0 0 303,973 H309.2"/>
<path class="k3" d="M735.4,953.1 H741.6 A9.9,9.9 0 0 1 741.6,973 H735.4"/>
<path class="k3" d="M309.2,987.6 H303 A9.9,9.9 0 0 0 303,1007.4 H309.2"/>
<path class="k3" d="M735.4,987.6 H741.6 A9.9,9.9 0 0 1 741.6,1007.4 H735.4"/>
<line class="n" x1="385.9" y1="811.0" x2="385.9" y2="887.3"/>
<line class="n" x1="659.0" y1="811.0" x2="659.0" y2="887.3"/>
<line class="n" x1="385.9" y1="813.9" x2="455.5" y2="813.9"/>
<line class="n" x1="573.5" y1="813.9" x2="659.0" y2="813.9"/>
<path class="af" d="M385.9,813.9 L395.4,812.3 L395.4,815.5 Z"/>
<path class="af" d="M659.0,813.9 L649.5,815.5 L649.5,812.3 Z"/>
<text class="d" x="514.5" y="819.1" font-size="14.6" text-anchor="middle" textLength="115.0" lengthAdjust="spacing">.187(4.75±0.05)</text>
</g>
<g id="v3">
<rect class="k" x="891.4" y="856.0" width="135.8" height="293.7" />
<line class="k" x1="917.4" y1="856.0" x2="917.4" y2="1141.3"/>
<line class="k" x1="964.2" y1="856.0" x2="964.2" y2="936.3"/>
<line class="k" x1="964.2" y1="1023.0" x2="964.2" y2="1120.4"/>
<line class="k" x1="983.0" y1="856.0" x2="983.0" y2="936.3"/>
<line class="k" x1="983.0" y1="1023.0" x2="983.0" y2="1120.4"/>
<line class="k" x1="1019.5" y1="856.0" x2="1019.5" y2="936.3"/>
<line class="k" x1="1019.5" y1="1023.0" x2="1019.5" y2="1120.4"/>
<line class="k" x1="891.4" y1="1120.4" x2="1027.2" y2="1120.4"/>
<path class="k" d="M1027.2,936.3 H945.5 A8.4,8.4 0 0 0 937.1,944.7 V1014.6 A8.4,8.4 0 0 0 945.5,1023 H1027.2"/>
<path class="k3" d="M945.5,936.3 A8.4,8.4 0 0 0 937.1,944.7 M937.1,1014.6 A8.4,8.4 0 0 0 945.5,1023"/>
<line class="k" x1="1012.3" y1="936.3" x2="1012.3" y2="1023.0"/>
<rect class="k" x="1012.3" y="953.8" width="18.0" height="52.9" />
<line class="k" x1="1012.3" y1="971.8" x2="1030.3" y2="971.8"/>
<line class="k" x1="1012.3" y1="989.1" x2="1030.3" y2="989.1"/>
<line class="m" x1="1010.6" y1="953.8" x2="1010.6" y2="1006.7"/>
<line class="k" x1="906.5" y1="1120.4" x2="906.5" y2="1149.7"/>
<line class="k" x1="960.6" y1="1120.4" x2="960.6" y2="1149.7"/>
<path class="k" d="M917.4,1141.3 H952.2 V1120.4"/>
<line class="m" x1="906.5" y1="1126.2" x2="917.4" y2="1126.2"/>
<line class="m" x1="952.2" y1="1126.2" x2="960.6" y2="1126.2"/>
<path class="k" d="M1017.6,1149.7 V1195.9 H1030.4 V1124"/>
<path class="k" d="M1027.2,1098.8 H1050.3 L1062.3,1104 V1119.7 L1050.3,1125.2 H1027.2"/>
<line class="k" x1="1050.3" y1="1098.8" x2="1050.3" y2="1125.2"/>
<path class="k3" d="M1025.5,1112 Q1030.5,1117 1030,1123"/>
<path class="k" d="M891.4,887.7 L880.1,893.7 L876.5,905.7 L880.1,911.7 L891.4,905.7"/>
<line class="n" x1="845.0" y1="856.0" x2="891.4" y2="856.0"/>
<line class="n" x1="845.0" y1="1149.7" x2="891.4" y2="1149.7"/>
<line class="n" x1="847.6" y1="856.0" x2="847.6" y2="964.0"/>
<line class="n" x1="847.6" y1="1042.0" x2="847.6" y2="1149.7"/>
<path class="af" d="M847.6,856.0 L849.2,865.5 L846.0,865.5 Z"/>
<path class="af" d="M847.6,1149.7 L846.0,1140.2 L849.2,1140.2 Z"/>
<text class="d" x="0" y="5.2" font-size="14.6" text-anchor="middle" textLength="72.0" lengthAdjust="spacing" transform="translate(847.6 1003.0) rotate(-90)">.201(5.10)</text>
<line class="n" x1="1027.2" y1="936.3" x2="1065.0" y2="936.3"/>
<line class="n" x1="1027.2" y1="1023.0" x2="1065.0" y2="1023.0"/>
<line class="n" x1="1062.8" y1="917.7" x2="1062.8" y2="943.0"/>
<line class="n" x1="1062.8" y1="1016.0" x2="1062.8" y2="1041.5"/>
<path class="af" d="M1062.8,936.3 L1061.2,926.8 L1064.4,926.8 Z"/>
<path class="af" d="M1062.8,1023.0 L1064.4,1032.5 L1061.2,1032.5 Z"/>
<text class="d" x="0" y="5.2" font-size="14.6" text-anchor="middle" textLength="71.0" lengthAdjust="spacing" transform="translate(1062.8 980.7) rotate(-90)">.059(1.50)</text>
</g>
<g id="v4">
<line class="k" x1="1208.7" y1="856.4" x2="1634.8" y2="856.4"/>
<line class="k" x1="1208.7" y1="856.4" x2="1208.7" y2="936.3"/>
<line class="k" x1="1208.7" y1="1023.6" x2="1208.7" y2="1120.4"/>
<line class="k" x1="1216.4" y1="856.4" x2="1216.4" y2="936.3"/>
<line class="k" x1="1216.4" y1="1023.6" x2="1216.4" y2="1120.4"/>
<line class="k" x1="1252.8" y1="856.4" x2="1252.8" y2="936.3"/>
<line class="k" x1="1252.8" y1="1023.6" x2="1252.8" y2="1120.4"/>
<line class="k" x1="1271.1" y1="856.4" x2="1271.1" y2="936.3"/>
<line class="k" x1="1271.1" y1="1023.6" x2="1271.1" y2="1120.4"/>
<line class="k" x1="1572.1" y1="856.4" x2="1572.1" y2="936.3"/>
<line class="k" x1="1572.1" y1="1023.6" x2="1572.1" y2="1120.4"/>
<line class="k" x1="1590.4" y1="856.4" x2="1590.4" y2="936.3"/>
<line class="k" x1="1590.4" y1="1023.6" x2="1590.4" y2="1120.4"/>
<line class="k" x1="1626.8" y1="856.4" x2="1626.8" y2="936.3"/>
<line class="k" x1="1626.8" y1="1023.6" x2="1626.8" y2="1120.4"/>
<line class="k" x1="1634.8" y1="856.4" x2="1634.8" y2="936.3"/>
<line class="k" x1="1634.8" y1="1023.6" x2="1634.8" y2="1120.4"/>
<line class="k" x1="1243.6" y1="954.7" x2="1243.6" y2="1005.9"/>
<line class="k" x1="1251.0" y1="954.7" x2="1251.0" y2="1005.9"/>
<line class="k" x1="1256.0" y1="954.7" x2="1256.0" y2="1005.9"/>
<line class="k" x1="1587.5" y1="954.7" x2="1587.5" y2="1005.9"/>
<line class="k" x1="1592.2" y1="954.7" x2="1592.2" y2="1005.9"/>
<line class="k" x1="1599.6" y1="954.7" x2="1599.6" y2="1005.9"/>
<path class="k" d="M1208.7,936.3 H1262.8 A9.2,9.2 0 0 1 1262.8,954.7 H1208.7"/>
<path class="k3" d="M1259.9,936.3 H1262.8 A9.2,9.2 0 0 1 1262.8,954.7 H1259.9"/>
<path class="k" d="M1634.8,936.3 H1580.7 A9.2,9.2 0 0 0 1580.7,954.7 H1634.8"/>
<path class="k3" d="M1583.6,936.3 H1580.7 A9.2,9.2 0 0 0 1580.7,954.7 H1583.6"/>
<line class="k" x1="1223.8" y1="936.3" x2="1223.8" y2="954.7"/>
<line class="k" x1="1234.7" y1="936.3" x2="1234.7" y2="954.7"/>
<line class="k" x1="1608.8" y1="936.3" x2="1608.8" y2="954.7"/>
<line class="k" x1="1619.7" y1="936.3" x2="1619.7" y2="954.7"/>
<line class="k" x1="1208.7" y1="936.3" x2="1208.7" y2="954.7"/>
<line class="k" x1="1634.8" y1="936.3" x2="1634.8" y2="954.7"/>
<line class="k" x1="1208.7" y1="945.5" x2="1223.8" y2="945.5"/>
<line class="k" x1="1619.7" y1="945.5" x2="1634.8" y2="945.5"/>
<path class="k" d="M1208.7,1005.9 H1262.8 A9.2,9.2 0 0 1 1262.8,1023.6 H1208.7"/>
<path class="k3" d="M1259.9,1005.9 H1262.8 A9.2,9.2 0 0 1 1262.8,1023.6 H1259.9"/>
<path class="k" d="M1634.8,1005.9 H1580.7 A9.2,9.2 0 0 0 1580.7,1023.6 H1634.8"/>
<path class="k3" d="M1583.6,1005.9 H1580.7 A9.2,9.2 0 0 0 1580.7,1023.6 H1583.6"/>
<line class="k" x1="1223.8" y1="1005.9" x2="1223.8" y2="1023.6"/>
<line class="k" x1="1234.7" y1="1005.9" x2="1234.7" y2="1023.6"/>
<line class="k" x1="1608.8" y1="1005.9" x2="1608.8" y2="1023.6"/>
<line class="k" x1="1619.7" y1="1005.9" x2="1619.7" y2="1023.6"/>
<line class="k" x1="1208.7" y1="1005.9" x2="1208.7" y2="1023.6"/>
<line class="k" x1="1634.8" y1="1005.9" x2="1634.8" y2="1023.6"/>
<line class="k" x1="1208.7" y1="1014.7" x2="1223.8" y2="1014.7"/>
<line class="k" x1="1619.7" y1="1014.7" x2="1634.8" y2="1014.7"/>
</g>
<g id="v4b">
<path class="k3" d="M1208.7,954.7 H1200.7 A8.9,8.9 0 0 0 1200.7,972.4 H1207.5 A8.1,8.1 0 0 1 1207.5,988.7 H1200.7 A8.9,8.9 0 0 0 1200.7,1006.4 H1208.7"/>
<path class="k3" d="M1634.8,954.7 H1642.8 A8.9,8.9 0 0 1 1642.8,972.4 H1636.0 A8.1,8.1 0 0 0 1636.0,988.7 H1642.8 A8.9,8.9 0 0 1 1642.8,1006.4 H1634.8"/>
<line class="k" x1="1421.4" y1="856.4" x2="1421.4" y2="917.7"/>
<line class="k" x1="1421.4" y1="1009.4" x2="1421.4" y2="1069.2"/>
<path class="k" d="M1421.4,917.7 Q1421.4,927.1 1412.3,926.5 Q1406.4,925.9 1400.4,920.0 Q1395.1,914.7 1390.1,915.3 Q1381.2,916.2 1381.2,924.2 V1004.1 Q1381.2,1013.0 1390.1,1013.0 Q1395.1,1013.5 1400.4,1008.2 Q1406.4,1002.3 1412.3,1001.7 Q1421.4,1001.1 1421.4,1010.0"/>
<rect class="k" x="1389.5" y="941.9" width="23.4" height="45.9" />
<line class="k" x1="1320.3" y1="1069.2" x2="1522.5" y2="1069.2"/>
<path class="k3" d="M1516.0,1069.2 H1522.5 Q1531.0,1069.4 1534.5,1074.8 L1558.5,1116.2 Q1561.5,1120.6 1569.0,1120.7"/>
<line class="k" x1="1569.0" y1="1120.5" x2="1575.0" y2="1120.5"/>
<path class="k3" d="M1326.8,1069.2 H1320.3 Q1311.8,1069.4 1308.3,1074.8 L1284.3,1116.2 Q1281.3,1120.6 1273.8,1120.7"/>
<line class="k" x1="1273.8" y1="1120.5" x2="1267.8" y2="1120.5"/>
<line class="k" x1="1208.7" y1="1120.4" x2="1273.8" y2="1120.4"/>
<line class="k" x1="1569.0" y1="1120.4" x2="1634.8" y2="1120.4"/>
<path class="k3" d="M1208.7,1120.4 A18.6,20.7 0 0 0 1227.3,1141.1"/>
<path class="k3" d="M1634.8,1120.4 A18.6,20.7 0 0 1 1616.2,1141.1"/>
<path class="k" d="M1227.3,1120.4 V1149.1 H1326.4"/>
<line class="k" x1="1235.3" y1="1120.4" x2="1235.3" y2="1149.1"/>
<path class="k" d="M1615.9,1120.4 V1149.1 H1516.4"/>
<line class="k" x1="1607.6" y1="1120.4" x2="1607.6" y2="1149.1"/>
<path class="k" d="M1326.4,1149.1 V1083.4 H1516.4 V1149.1"/>
<line class="k" x1="1326.4" y1="1132.2" x2="1338.9" y2="1132.2"/>
<line class="k" x1="1326.4" y1="1147.0" x2="1338.9" y2="1147.0"/>
<line class="k" x1="1354.3" y1="1132.2" x2="1376.5" y2="1132.2"/>
<line class="k" x1="1354.3" y1="1147.0" x2="1376.5" y2="1147.0"/>
<line class="k" x1="1391.8" y1="1132.2" x2="1414.0" y2="1132.2"/>
<line class="k" x1="1391.8" y1="1147.0" x2="1414.0" y2="1147.0"/>
<line class="k" x1="1429.1" y1="1132.2" x2="1451.3" y2="1132.2"/>
<line class="k" x1="1429.1" y1="1147.0" x2="1451.3" y2="1147.0"/>
<line class="k" x1="1466.4" y1="1132.2" x2="1488.9" y2="1132.2"/>
<line class="k" x1="1466.4" y1="1147.0" x2="1488.9" y2="1147.0"/>
<line class="k" x1="1503.7" y1="1132.2" x2="1516.4" y2="1132.2"/>
<line class="k" x1="1503.7" y1="1147.0" x2="1516.4" y2="1147.0"/>
<rect class="k" x="1338.9" y="1112.1" width="15.4" height="83.8" />
<line class="k" x1="1338.9" y1="1129.3" x2="1354.3" y2="1129.3"/>
<rect class="k" x="1376.5" y="1112.1" width="15.4" height="83.8" />
<line class="k" x1="1376.5" y1="1129.3" x2="1391.8" y2="1129.3"/>
<rect class="k" x="1414.0" y="1112.1" width="15.1" height="83.8" />
<line class="k" x1="1414.0" y1="1129.3" x2="1429.1" y2="1129.3"/>
<rect class="k" x="1451.3" y="1112.1" width="15.1" height="83.8" />
<line class="k" x1="1451.3" y1="1129.3" x2="1466.4" y2="1129.3"/>
<rect class="k" x="1488.9" y="1112.1" width="14.8" height="83.8" />
<line class="k" x1="1488.9" y1="1129.3" x2="1503.7" y2="1129.3"/>
<circle class="k3" cx="1306.3" cy="1112.4" r="13.0"/>
<circle class="k3" cx="1536.0" cy="1112.4" r="13.0"/>
<line class="n" x1="1306.3" y1="1102.6" x2="1306.3" y2="1121.9"/>
<line class="n" x1="1296.9" y1="1112.4" x2="1317.0" y2="1112.4"/>
<line class="n" x1="1536.0" y1="1102.6" x2="1536.0" y2="1121.9"/>
<line class="n" x1="1526.2" y1="1112.4" x2="1546.0" y2="1112.4"/>
<line class="n" x1="1155.4" y1="837.8" x2="1155.4" y2="860.0"/>
<path class="af" d="M1155.4,856.4 L1153.8,846.9 L1157.0,846.9 Z"/>
<line class="n" x1="1155.4" y1="856.4" x2="1208.7" y2="856.4"/>
<line class="n" x1="1155.4" y1="978.3" x2="1155.4" y2="997.6"/>
<path class="af" d="M1155.4,979.8 L1157.0,989.3 L1153.8,989.3 Z"/>
<text class="d" x="0" y="5.2" font-size="14.6" text-anchor="middle" textLength="111.0" lengthAdjust="spacing" transform="translate(1155.4 916.8) rotate(-90)">.085(2.15±0.10)</text>
<line class="n" x1="1155.4" y1="979.8" x2="1187.4" y2="979.8"/>
<line class="cl" x1="1187.4" y1="979.8" x2="1228.8" y2="979.8"/>
<line class="k" x1="1162.2" y1="979.8" x2="1185.9" y2="979.8"/>
<line class="n" x1="1176.1" y1="961.5" x2="1176.1" y2="990.2"/>
<path class="af" d="M1176.1,979.8 L1174.5,970.3 L1177.7,970.3 Z"/>
<text class="d" x="0" y="5.2" font-size="14.6" text-anchor="middle" textLength="115.0" lengthAdjust="spacing" transform="translate(1176.1 1050.8) rotate(-90)">.091(2.30±0.10)</text>
<line class="n" x1="1176.1" y1="1110.0" x2="1176.1" y2="1130.7"/>
<path class="af" d="M1176.1,1112.4 L1177.7,1121.9 L1174.5,1121.9 Z"/>
<line class="n" x1="1176.1" y1="1112.4" x2="1296.9" y2="1112.4"/>
<line class="n" x1="1643.1" y1="954.7" x2="1691.1" y2="954.7"/>
<line class="n" x1="1643.1" y1="1005.9" x2="1691.1" y2="1005.9"/>
<line class="n" x1="1689.6" y1="954.7" x2="1689.6" y2="1015.9"/>
<path class="af" d="M1689.6,954.7 L1691.2,964.2 L1688.0,964.2 Z"/>
<path class="af" d="M1689.6,1005.9 L1688.0,996.4 L1691.2,996.4 Z"/>
<text class="d" x="0" y="5.2" font-size="14.6" text-anchor="middle" textLength="118.0" lengthAdjust="spacing" transform="translate(1689.6 1076.0) rotate(-90)">.035(0.90±0.05)</text>
<line class="n" x1="1346.6" y1="1195.9" x2="1346.6" y2="1263.9"/>
<line class="n" x1="1384.2" y1="1195.9" x2="1384.2" y2="1233.1"/>
<line class="n" x1="1336.8" y1="1230.8" x2="1384.2" y2="1230.8"/>
<path class="af" d="M1346.6,1230.8 L1356.1,1229.2 L1356.1,1232.4 Z"/>
<path class="af" d="M1384.2,1230.8 L1374.7,1232.4 L1374.7,1229.2 Z"/>
<text class="d" x="1276.4" y="1236.0" font-size="14.6" text-anchor="middle" textLength="117.8" lengthAdjust="spacing">.026(0.65±0.05)</text>
<line class="n" x1="1496.3" y1="1195.9" x2="1496.3" y2="1263.9"/>
<line class="n" x1="1346.6" y1="1261.8" x2="1359.0" y2="1261.8"/>
<line class="n" x1="1478.9" y1="1261.8" x2="1496.3" y2="1261.8"/>
<path class="af" d="M1346.6,1261.8 L1356.1,1260.2 L1356.1,1263.4 Z"/>
<path class="af" d="M1496.3,1261.8 L1486.8,1263.4 L1486.8,1260.2 Z"/>
<text class="d" x="1418.9" y="1267.0" font-size="14.6" text-anchor="middle" textLength="117.0" lengthAdjust="spacing">.102(2.60±0.05)</text>
<line class="n" x1="1532.1" y1="1081.9" x2="1544.3" y2="1150.9"/>
<path class="af" d="M1534.5,1098.2 L1531.3,1089.1 L1534.4,1088.6 Z"/>
<path class="af" d="M1538.6,1126.3 L1541.9,1135.4 L1538.7,1135.9 Z"/>
<text class="d" x="0" y="5.2" font-size="14.6" text-anchor="middle" textLength="124" lengthAdjust="spacing" transform="translate(1552.5 1215.8) rotate(80.0)">ø.018(0.45±0.05)</text>
</g>
<g id="v5">
<path class="k" d="M365.2,1276.9 V1261.6 H406.9 V1276.9"/>
<line class="m" x1="365.2" y1="1263.8" x2="406.9" y2="1263.8"/>
<path class="k" d="M638.5,1276.9 V1261.6 H679.7 V1276.9"/>
<line class="m" x1="638.5" y1="1263.8" x2="679.7" y2="1263.8"/>
<line class="k" x1="335.8" y1="1276.9" x2="708.1" y2="1276.9"/>
<path class="k3" d="M335.8,1275.7 A27.0,27.3 0 0 0 308.8,1303.0"/>
<path class="k3" d="M708.1,1275.7 A27.0,27.3 0 0 1 735.2,1303.0"/>
<path class="k3" d="M335.8,1290.6 A11.8,12.5 0 0 0 324.1,1303.0"/>
<path class="k3" d="M708.1,1290.6 A11.8,12.5 0 0 1 719.9,1303.0"/>
<line class="k" x1="308.8" y1="1303.0" x2="308.8" y2="1349.4"/>
<line class="k" x1="735.2" y1="1303.0" x2="735.2" y2="1349.4"/>
<path class="k3" d="M308.8,1349.4 Q309.3,1362.3 318.2,1368.2 L327.6,1377.6"/>
<path class="k3" d="M735.2,1349.4 Q734.7,1362.3 725.8,1368.2 L716.4,1377.6"/>
<path class="k" d="M323.4,1349.4 Q324.8,1356.4 327.6,1358.8 L318.2,1368.2"/>
<path class="k" d="M720.6,1349.4 Q719.2,1356.4 716.4,1358.8 L725.8,1368.2"/>
<line class="k" x1="308.8" y1="1349.4" x2="323.4" y2="1349.4"/>
<line class="k" x1="720.6" y1="1349.4" x2="735.2" y2="1349.4"/>
<line class="k" x1="335.8" y1="1290.6" x2="392.3" y2="1290.6"/>
<line class="k" x1="428.0" y1="1290.6" x2="616.9" y2="1290.6"/>
<line class="k" x1="652.6" y1="1290.6" x2="708.1" y2="1290.6"/>
<line class="k" x1="336.5" y1="1276.9" x2="336.5" y2="1290.6"/>
<line class="k" x1="350.0" y1="1276.9" x2="350.0" y2="1290.6"/>
<line class="k" x1="389.9" y1="1276.9" x2="389.9" y2="1290.6"/>
<line class="k" x1="707.4" y1="1276.9" x2="707.4" y2="1290.6"/>
<line class="k" x1="694.0" y1="1276.9" x2="694.0" y2="1290.6"/>
<line class="k" x1="654.0" y1="1276.9" x2="654.0" y2="1290.6"/>
<line class="k" x1="392.3" y1="1276.9" x2="392.3" y2="1345.8"/>
<line class="k" x1="428.0" y1="1276.9" x2="428.0" y2="1411.7"/>
<line class="k" x1="616.9" y1="1276.9" x2="616.9" y2="1411.7"/>
<line class="k" x1="652.6" y1="1276.9" x2="652.6" y2="1345.8"/>
<path class="k" d="M392.3,1345.8 H328.8 V1402.3"/>
<path class="k" d="M652.6,1345.8 H716.8 V1402.3"/>
<path class="k3" d="M327.6,1401.1 Q328.8,1414.5 344.1,1414.5 L353.5,1411.2"/>
<path class="k3" d="M716.8,1401.1 Q715.7,1414.5 700.4,1414.5 L691.0,1411.2"/>
<rect class="k" x="330.0" y="1303.0" width="37.2" height="33.4" />
<rect class="k" x="677.6" y="1303.0" width="36.9" height="33.4" />
<line class="k" x1="308.8" y1="1303.0" x2="330.0" y2="1303.0"/>
<line class="k" x1="308.8" y1="1336.4" x2="330.0" y2="1336.4"/>
<line class="k" x1="714.5" y1="1303.0" x2="735.2" y2="1303.0"/>
<line class="k" x1="714.5" y1="1336.4" x2="735.2" y2="1336.4"/>
<line class="k" x1="323.4" y1="1336.4" x2="323.4" y2="1349.4"/>
<line class="k" x1="720.6" y1="1336.4" x2="720.6" y2="1349.4"/>
<path class="k" d="M327.6,1399.9 H293.5 V1415.2 H340.5"/>
<line class="k" x1="302.2" y1="1399.9" x2="302.2" y2="1415.2"/>
<path class="k" d="M718.0,1399.9 H751.6 V1415.2 H703.9"/>
<line class="k" x1="742.7" y1="1399.9" x2="742.7" y2="1415.2"/>
<line class="k" x1="353.5" y1="1411.7" x2="691.0" y2="1411.7"/>
<line class="k" x1="428.0" y1="1394.5" x2="616.9" y2="1394.5"/>
<rect class="k" x="440.0" y="1394.5" width="15.3" height="20.7" fill="#fff"/>
<line class="k" x1="440.0" y1="1403.5" x2="455.3" y2="1403.5"/>
<rect class="k" x="477.7" y="1394.5" width="15.1" height="20.7" fill="#fff"/>
<line class="k" x1="477.7" y1="1403.5" x2="492.7" y2="1403.5"/>
<rect class="k" x="515.1" y="1394.5" width="14.8" height="20.7" fill="#fff"/>
<line class="k" x1="515.1" y1="1403.5" x2="529.9" y2="1403.5"/>
<rect class="k" x="552.7" y="1394.5" width="14.8" height="20.7" fill="#fff"/>
<line class="k" x1="552.7" y1="1403.5" x2="567.5" y2="1403.5"/>
<rect class="k" x="589.8" y="1394.5" width="14.8" height="20.7" fill="#fff"/>
<line class="k" x1="589.8" y1="1403.5" x2="604.7" y2="1403.5"/>
<path class="k" d="M393.9,1411.7 V1436.4 L397.7,1447.0 H418.2 L421.2,1436.4 V1411.7"/>
<line class="k" x1="393.9" y1="1436.4" x2="421.2" y2="1436.4"/>
<path class="k" d="M623.9,1411.7 V1436.4 L627.0,1447.0 H647.9 L651.0,1436.4 V1411.7"/>
<line class="k" x1="623.9" y1="1436.4" x2="651.0" y2="1436.4"/>
<line class="n" x1="276.7" y1="1411.7" x2="332.3" y2="1411.7"/>
<line class="n" x1="276.7" y1="1446.5" x2="397.7" y2="1446.5"/>
<line class="n" x1="278.7" y1="1411.7" x2="278.7" y2="1455.2"/>
<path class="af" d="M278.7,1411.7 L280.3,1421.2 L277.1,1421.2 Z"/>
<path class="af" d="M278.7,1446.5 L277.1,1437.0 L280.3,1437.0 Z"/>
<text class="d" x="0" y="5.2" font-size="14.6" text-anchor="middle" textLength="117.6" lengthAdjust="spacing" transform="translate(278.7 1516.3) rotate(-90)">.024(0.60±0.05)</text>
<line class="n" x1="407.6" y1="1447.0" x2="407.6" y2="1493.5"/>
<line class="n" x1="637.6" y1="1447.0" x2="637.6" y2="1493.5"/>
<line class="n" x1="407.6" y1="1491.2" x2="457.5" y2="1491.2"/>
<line class="n" x1="575.5" y1="1491.2" x2="637.6" y2="1491.2"/>
<path class="af" d="M407.6,1491.2 L417.1,1489.6 L417.1,1492.8 Z"/>
<path class="af" d="M637.6,1491.2 L628.1,1492.8 L628.1,1489.6 Z"/>
<text class="d" x="516.5" y="1496.4" font-size="14.6" text-anchor="middle" textLength="115.0" lengthAdjust="spacing">.157(4.00±0.05)</text>
</g>
</svg>
</body></html>
